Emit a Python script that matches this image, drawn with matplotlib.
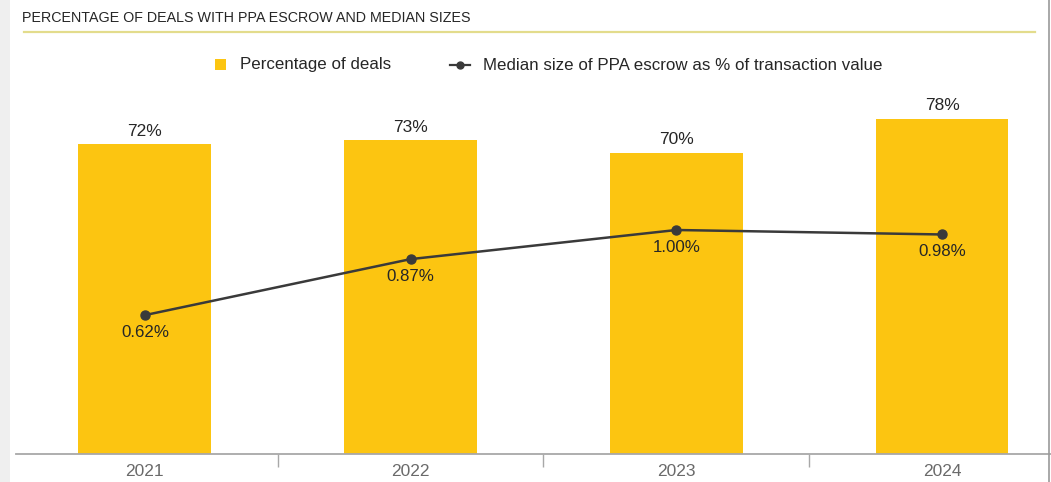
import matplotlib
matplotlib.use("Agg")
import matplotlib.pyplot as plt
from matplotlib.patches import Rectangle
from matplotlib.lines import Line2D

years = ["2021", "2022", "2023", "2024"]
deal_pct = [72, 73, 70, 78]
median_escrow = [0.62, 0.87, 1.00, 0.98]

title = "PERCENTAGE OF DEALS WITH PPA ESCROW AND MEDIAN SIZES"
legend_bar = "Percentage of deals"
legend_line = "Median size of PPA escrow as % of transaction value"

YELLOW = "#FCC511"
DARK = "#3A3A3A"
TEXT = "#262626"

plt.rcParams["font.family"] = ["Liberation Sans", "DejaVu Sans"]

W, H = 1051, 482
fig = plt.figure(figsize=(W / 100, H / 100), dpi=100)
fig.patch.set_facecolor("white")

# page frame: light strip on the left, thin border on the right
fig.add_artist(Rectangle((0, 0), 10 / W, 1, transform=fig.transFigure,
                         facecolor="#EFEFEF", edgecolor="none", zorder=0))
fig.add_artist(Line2D([1049 / W, 1049 / W], [0, 1], transform=fig.transFigure,
                      color="#9A9A9A", lw=1.2))

# title and its underline
fig.text(22 / W, 1 - 18 / H, title, fontsize=10.3, color=TEXT, va="center", ha="left")
fig.add_artist(Line2D([24 / W, 1035 / W], [1 - 32 / H, 1 - 32 / H],
                      transform=fig.transFigure, color="#E3DC8C", lw=1.6))

# plotting area: baseline at y=454 px, top at y=40 px
left_px, right_px, base_px, top_px = 16, 1051, 454, 40
ax = fig.add_axes([left_px / W, 1 - base_px / H, (right_px - left_px) / W,
                   (base_px - top_px) / H])
ax.set_facecolor("none")
x = list(range(len(years)))
ax.set_xlim(-0.485, 3.41)
ax.set_ylim(0, (base_px - top_px) / 4.3)

ax.bar(x, deal_pct, width=0.5, color=YELLOW, zorder=2)
for xi, v in zip(x, deal_pct):
    ax.annotate(f"{v}%", (xi, v), xytext=(0, 4), textcoords="offset points",
                ha="center", va="bottom", fontsize=12.5, color=TEXT)

for s in ["top", "right", "left"]:
    ax.spines[s].set_visible(False)
ax.spines["bottom"].set_color("#A8A8A8")
ax.spines["bottom"].set_linewidth(1.3)
ax.set_yticks([])
ax.set_xticks(x)
ax.set_xticklabels(years, fontsize=12.5, color="#6A6A6A")
ax.tick_params(axis="x", length=0, pad=7)
# separators between categories
ax.set_xticks([0.5, 1.5, 2.5], minor=True)
ax.tick_params(axis="x", which="minor", length=9, width=1, color="#A8A8A8")

ax2 = ax.twinx()
ax2.set_ylim(0, (base_px - top_px) / 224)
ax2.axis("off")
ax2.plot(x, median_escrow, color=DARK, lw=1.8, marker="o", markersize=6.5, zorder=3)
for xi, v in zip(x, median_escrow):
    ax2.annotate(f"{v:.2f}%", (xi, v), xytext=(0, -7), textcoords="offset points",
                 ha="center", va="top", fontsize=12.2, color=TEXT)

# legend
ly = 1 - 65 / H
fig.add_artist(Rectangle((215 / W, ly - 5.5 / H), 11 / W, 11 / H,
                         transform=fig.transFigure, facecolor=YELLOW, edgecolor="none"))
fig.text(240 / W, ly, legend_bar, fontsize=12.2, color=TEXT, va="center", ha="left")
fig.add_artist(Line2D([450 / W, 470 / W], [ly, ly], transform=fig.transFigure,
                      color=DARK, lw=1.6))
fig.add_artist(Line2D([460 / W], [ly], transform=fig.transFigure, color=DARK,
                      marker="o", markersize=5, lw=0))
fig.text(483 / W, ly, legend_line, fontsize=12.2, color=TEXT, va="center", ha="left")

fig.savefig("out.png", dpi=100)
